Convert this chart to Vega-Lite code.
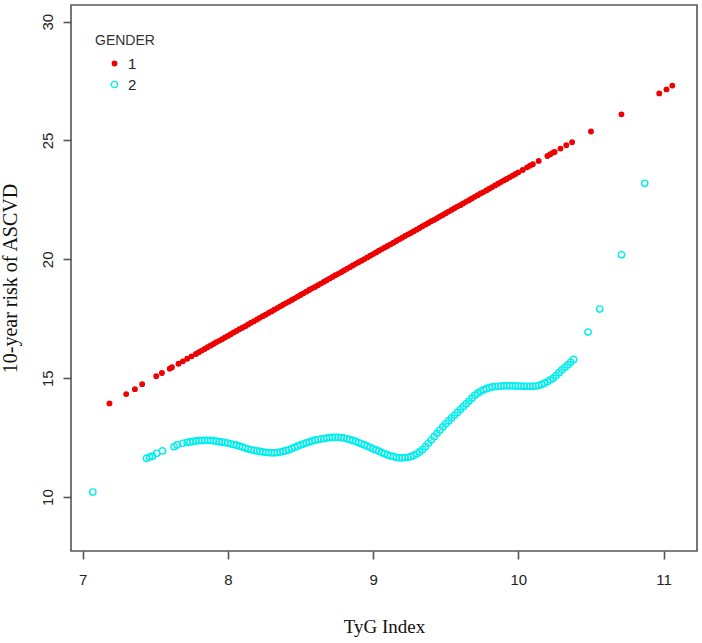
{
  "$schema": "https://vega.github.io/schema/vega-lite/v6.json",
  "autosize": "none",
  "padding": {"left": 71, "top": 5, "right": 5, "bottom": 92},
  "width": 626,
  "height": 546,
  "background": "white",
  "config": {
    "view": {"stroke": "#555555", "strokeWidth": 1.6},
    "axis": {"grid": false, "domain": false, "tickColor": "#555555", "tickWidth": 1.6, "tickSize": 8,
      "labelFont": "Liberation Sans", "labelFontSize": 15, "labelColor": "#222222",
      "titleFont": "Liberation Serif", "titleFontWeight": "normal", "titleColor": "#111111"},
    "legend": {"padding": 0,
      "titleFont": "Liberation Sans", "titleFontSize": 14, "titleFontWeight": "normal", "titleColor": "#333333",
      "titlePadding": 8, "labelFont": "Liberation Sans", "labelFontSize": 15, "labelColor": "#222222",
      "symbolOffset": 12, "labelOffset": 6, "rowPadding": 5, "symbolStrokeWidth": 1.3}
  },
  "data": {
    "values": [
      {"g": "1", "x": 7.185, "y": 13.94}, {"g": "1", "x": 7.30, "y": 14.33}, {"g": "1", "x": 7.36, "y": 14.54},
      {"g": "1", "x": 7.41, "y": 14.75}, {"g": "1", "x": 7.507, "y": 15.08}, {"g": "1", "x": 7.546, "y": 15.22},
      {"g": "1", "x": 7.60, "y": 15.40}, {"g": "1", "x": 7.615, "y": 15.46}, {"g": "1", "x": 7.66, "y": 15.61},
      {"g": "1", "x": 7.69, "y": 15.71}, {"g": "1", "x": 7.72, "y": 15.82}, {"g": "1", "x": 7.75, "y": 15.92},
      {"g": "1", "x": 7.78, "y": 16.02}, {"g": "1", "x": 7.80, "y": 16.09}, {"g": "1", "x": 7.82, "y": 16.16},
      {"g": "1", "x": 7.84, "y": 16.23}, {"g": "1", "x": 7.86, "y": 16.30}, {"g": "1", "x": 7.88, "y": 16.37},
      {"g": "1", "x": 7.90, "y": 16.44}, {"g": "1", "x": 7.92, "y": 16.51}, {"g": "1", "x": 7.94, "y": 16.57},
      {"g": "1", "x": 7.96, "y": 16.64}, {"g": "1", "x": 7.98, "y": 16.71}, {"g": "1", "x": 8.00, "y": 16.78},
      {"g": "1", "x": 8.02, "y": 16.85}, {"g": "1", "x": 8.04, "y": 16.92}, {"g": "1", "x": 8.06, "y": 16.99},
      {"g": "1", "x": 8.08, "y": 17.06}, {"g": "1", "x": 8.10, "y": 17.12}, {"g": "1", "x": 8.12, "y": 17.19},
      {"g": "1", "x": 8.14, "y": 17.26}, {"g": "1", "x": 8.16, "y": 17.33}, {"g": "1", "x": 8.18, "y": 17.40},
      {"g": "1", "x": 8.20, "y": 17.47}, {"g": "1", "x": 8.22, "y": 17.54}, {"g": "1", "x": 8.24, "y": 17.61},
      {"g": "1", "x": 8.26, "y": 17.67}, {"g": "1", "x": 8.28, "y": 17.74}, {"g": "1", "x": 8.30, "y": 17.81},
      {"g": "1", "x": 8.32, "y": 17.88}, {"g": "1", "x": 8.34, "y": 17.95}, {"g": "1", "x": 8.36, "y": 18.02},
      {"g": "1", "x": 8.38, "y": 18.09}, {"g": "1", "x": 8.40, "y": 18.16}, {"g": "1", "x": 8.42, "y": 18.22},
      {"g": "1", "x": 8.44, "y": 18.29}, {"g": "1", "x": 8.46, "y": 18.36}, {"g": "1", "x": 8.48, "y": 18.43},
      {"g": "1", "x": 8.50, "y": 18.50}, {"g": "1", "x": 8.52, "y": 18.57}, {"g": "1", "x": 8.54, "y": 18.64},
      {"g": "1", "x": 8.56, "y": 18.71}, {"g": "1", "x": 8.58, "y": 18.78}, {"g": "1", "x": 8.60, "y": 18.84},
      {"g": "1", "x": 8.62, "y": 18.91}, {"g": "1", "x": 8.64, "y": 18.98}, {"g": "1", "x": 8.66, "y": 19.05},
      {"g": "1", "x": 8.68, "y": 19.12}, {"g": "1", "x": 8.70, "y": 19.19}, {"g": "1", "x": 8.72, "y": 19.26},
      {"g": "1", "x": 8.74, "y": 19.33}, {"g": "1", "x": 8.76, "y": 19.39}, {"g": "1", "x": 8.78, "y": 19.46},
      {"g": "1", "x": 8.80, "y": 19.53}, {"g": "1", "x": 8.82, "y": 19.60}, {"g": "1", "x": 8.84, "y": 19.67},
      {"g": "1", "x": 8.86, "y": 19.74}, {"g": "1", "x": 8.88, "y": 19.81}, {"g": "1", "x": 8.90, "y": 19.88},
      {"g": "1", "x": 8.92, "y": 19.94}, {"g": "1", "x": 8.94, "y": 20.01}, {"g": "1", "x": 8.96, "y": 20.08},
      {"g": "1", "x": 8.98, "y": 20.15}, {"g": "1", "x": 9.00, "y": 20.22}, {"g": "1", "x": 9.02, "y": 20.29},
      {"g": "1", "x": 9.04, "y": 20.36}, {"g": "1", "x": 9.06, "y": 20.43}, {"g": "1", "x": 9.08, "y": 20.50},
      {"g": "1", "x": 9.10, "y": 20.56}, {"g": "1", "x": 9.12, "y": 20.63}, {"g": "1", "x": 9.14, "y": 20.70},
      {"g": "1", "x": 9.16, "y": 20.77}, {"g": "1", "x": 9.18, "y": 20.84}, {"g": "1", "x": 9.20, "y": 20.91},
      {"g": "1", "x": 9.22, "y": 20.98}, {"g": "1", "x": 9.24, "y": 21.05}, {"g": "1", "x": 9.26, "y": 21.11},
      {"g": "1", "x": 9.28, "y": 21.18}, {"g": "1", "x": 9.30, "y": 21.25}, {"g": "1", "x": 9.32, "y": 21.32},
      {"g": "1", "x": 9.34, "y": 21.39}, {"g": "1", "x": 9.36, "y": 21.46}, {"g": "1", "x": 9.38, "y": 21.53},
      {"g": "1", "x": 9.40, "y": 21.60}, {"g": "1", "x": 9.42, "y": 21.66}, {"g": "1", "x": 9.44, "y": 21.73},
      {"g": "1", "x": 9.46, "y": 21.80}, {"g": "1", "x": 9.48, "y": 21.87}, {"g": "1", "x": 9.50, "y": 21.94},
      {"g": "1", "x": 9.52, "y": 22.01}, {"g": "1", "x": 9.54, "y": 22.08}, {"g": "1", "x": 9.56, "y": 22.15},
      {"g": "1", "x": 9.58, "y": 22.22}, {"g": "1", "x": 9.60, "y": 22.28}, {"g": "1", "x": 9.62, "y": 22.35},
      {"g": "1", "x": 9.64, "y": 22.42}, {"g": "1", "x": 9.66, "y": 22.49}, {"g": "1", "x": 9.68, "y": 22.56},
      {"g": "1", "x": 9.70, "y": 22.63}, {"g": "1", "x": 9.72, "y": 22.70}, {"g": "1", "x": 9.74, "y": 22.77},
      {"g": "1", "x": 9.76, "y": 22.83}, {"g": "1", "x": 9.78, "y": 22.90}, {"g": "1", "x": 9.80, "y": 22.97},
      {"g": "1", "x": 9.82, "y": 23.04}, {"g": "1", "x": 9.84, "y": 23.11}, {"g": "1", "x": 9.86, "y": 23.18},
      {"g": "1", "x": 9.88, "y": 23.25}, {"g": "1", "x": 9.90, "y": 23.32}, {"g": "1", "x": 9.92, "y": 23.38},
      {"g": "1", "x": 9.94, "y": 23.45}, {"g": "1", "x": 9.96, "y": 23.52}, {"g": "1", "x": 9.98, "y": 23.59},
      {"g": "1", "x": 10.00, "y": 23.66}, {"g": "1", "x": 10.03, "y": 23.76}, {"g": "1", "x": 10.06, "y": 23.87},
      {"g": "1", "x": 10.08, "y": 23.94}, {"g": "1", "x": 10.10, "y": 24.00}, {"g": "1", "x": 10.14, "y": 24.14},
      {"g": "1", "x": 10.20, "y": 24.35}, {"g": "1", "x": 10.22, "y": 24.42}, {"g": "1", "x": 10.24, "y": 24.49},
      {"g": "1", "x": 10.25, "y": 24.52}, {"g": "1", "x": 10.29, "y": 24.66}, {"g": "1", "x": 10.33, "y": 24.80},
      {"g": "1", "x": 10.37, "y": 24.93}, {"g": "1", "x": 10.50, "y": 25.38}, {"g": "1", "x": 10.71, "y": 26.10},
      {"g": "1", "x": 10.97, "y": 26.98}, {"g": "1", "x": 11.02, "y": 27.15}, {"g": "1", "x": 11.06, "y": 27.31},

      {"g": "2", "x": 7.07, "y": 10.21}, {"g": "2", "x": 7.44, "y": 11.63}, {"g": "2", "x": 7.46, "y": 11.68},
      {"g": "2", "x": 7.48, "y": 11.72}, {"g": "2", "x": 7.51, "y": 11.84}, {"g": "2", "x": 7.55, "y": 11.94},
      {"g": "2", "x": 7.63, "y": 12.12}, {"g": "2", "x": 7.65, "y": 12.19}, {"g": "2", "x": 7.69, "y": 12.26},
      {"g": "2", "x": 7.72, "y": 12.30}, {"g": "2", "x": 7.74, "y": 12.32}, {"g": "2", "x": 7.76, "y": 12.34},
      {"g": "2", "x": 7.78, "y": 12.36}, {"g": "2", "x": 7.80, "y": 12.37}, {"g": "2", "x": 7.82, "y": 12.375},
      {"g": "2", "x": 7.84, "y": 12.38}, {"g": "2", "x": 7.86, "y": 12.38}, {"g": "2", "x": 7.88, "y": 12.375},
      {"g": "2", "x": 7.90, "y": 12.37}, {"g": "2", "x": 7.92, "y": 12.35}, {"g": "2", "x": 7.94, "y": 12.33},
      {"g": "2", "x": 7.96, "y": 12.31}, {"g": "2", "x": 7.98, "y": 12.29}, {"g": "2", "x": 8.00, "y": 12.27},
      {"g": "2", "x": 8.02, "y": 12.24}, {"g": "2", "x": 8.04, "y": 12.21}, {"g": "2", "x": 8.06, "y": 12.18},
      {"g": "2", "x": 8.08, "y": 12.14}, {"g": "2", "x": 8.10, "y": 12.10}, {"g": "2", "x": 8.12, "y": 12.06},
      {"g": "2", "x": 8.14, "y": 12.02}, {"g": "2", "x": 8.16, "y": 11.99}, {"g": "2", "x": 8.18, "y": 11.96},
      {"g": "2", "x": 8.20, "y": 11.94}, {"g": "2", "x": 8.22, "y": 11.92}, {"g": "2", "x": 8.24, "y": 11.90},
      {"g": "2", "x": 8.26, "y": 11.88}, {"g": "2", "x": 8.28, "y": 11.87}, {"g": "2", "x": 8.30, "y": 11.86},
      {"g": "2", "x": 8.32, "y": 11.86}, {"g": "2", "x": 8.34, "y": 11.87}, {"g": "2", "x": 8.36, "y": 11.89},
      {"g": "2", "x": 8.38, "y": 11.92}, {"g": "2", "x": 8.40, "y": 11.95}, {"g": "2", "x": 8.42, "y": 11.99},
      {"g": "2", "x": 8.44, "y": 12.04}, {"g": "2", "x": 8.46, "y": 12.09}, {"g": "2", "x": 8.48, "y": 12.14},
      {"g": "2", "x": 8.50, "y": 12.19}, {"g": "2", "x": 8.52, "y": 12.23}, {"g": "2", "x": 8.54, "y": 12.28},
      {"g": "2", "x": 8.56, "y": 12.32}, {"g": "2", "x": 8.58, "y": 12.36}, {"g": "2", "x": 8.60, "y": 12.39},
      {"g": "2", "x": 8.62, "y": 12.42}, {"g": "2", "x": 8.64, "y": 12.44}, {"g": "2", "x": 8.66, "y": 12.46},
      {"g": "2", "x": 8.68, "y": 12.48}, {"g": "2", "x": 8.70, "y": 12.50}, {"g": "2", "x": 8.72, "y": 12.51},
      {"g": "2", "x": 8.74, "y": 12.51}, {"g": "2", "x": 8.76, "y": 12.51}, {"g": "2", "x": 8.78, "y": 12.50},
      {"g": "2", "x": 8.80, "y": 12.48}, {"g": "2", "x": 8.82, "y": 12.45}, {"g": "2", "x": 8.84, "y": 12.42},
      {"g": "2", "x": 8.86, "y": 12.38}, {"g": "2", "x": 8.88, "y": 12.34}, {"g": "2", "x": 8.90, "y": 12.29},
      {"g": "2", "x": 8.92, "y": 12.24}, {"g": "2", "x": 8.94, "y": 12.19}, {"g": "2", "x": 8.96, "y": 12.14},
      {"g": "2", "x": 8.98, "y": 12.08}, {"g": "2", "x": 9.00, "y": 12.03}, {"g": "2", "x": 9.02, "y": 11.98},
      {"g": "2", "x": 9.04, "y": 11.93}, {"g": "2", "x": 9.06, "y": 11.87}, {"g": "2", "x": 9.08, "y": 11.82},
      {"g": "2", "x": 9.10, "y": 11.77}, {"g": "2", "x": 9.12, "y": 11.73}, {"g": "2", "x": 9.14, "y": 11.70},
      {"g": "2", "x": 9.16, "y": 11.67}, {"g": "2", "x": 9.18, "y": 11.65}, {"g": "2", "x": 9.20, "y": 11.65},
      {"g": "2", "x": 9.22, "y": 11.66}, {"g": "2", "x": 9.24, "y": 11.67}, {"g": "2", "x": 9.26, "y": 11.70},
      {"g": "2", "x": 9.28, "y": 11.75}, {"g": "2", "x": 9.30, "y": 11.82}, {"g": "2", "x": 9.32, "y": 11.90},
      {"g": "2", "x": 9.34, "y": 12.00}, {"g": "2", "x": 9.36, "y": 12.12}, {"g": "2", "x": 9.38, "y": 12.26},
      {"g": "2", "x": 9.40, "y": 12.40}, {"g": "2", "x": 9.42, "y": 12.54}, {"g": "2", "x": 9.44, "y": 12.68},
      {"g": "2", "x": 9.46, "y": 12.82}, {"g": "2", "x": 9.48, "y": 12.95}, {"g": "2", "x": 9.50, "y": 13.08},
      {"g": "2", "x": 9.52, "y": 13.20}, {"g": "2", "x": 9.54, "y": 13.32}, {"g": "2", "x": 9.56, "y": 13.44},
      {"g": "2", "x": 9.58, "y": 13.56}, {"g": "2", "x": 9.60, "y": 13.68}, {"g": "2", "x": 9.62, "y": 13.80},
      {"g": "2", "x": 9.64, "y": 13.92}, {"g": "2", "x": 9.66, "y": 14.04}, {"g": "2", "x": 9.68, "y": 14.16},
      {"g": "2", "x": 9.70, "y": 14.28}, {"g": "2", "x": 9.72, "y": 14.37}, {"g": "2", "x": 9.74, "y": 14.45},
      {"g": "2", "x": 9.76, "y": 14.51}, {"g": "2", "x": 9.78, "y": 14.56}, {"g": "2", "x": 9.80, "y": 14.60},
      {"g": "2", "x": 9.82, "y": 14.63}, {"g": "2", "x": 9.84, "y": 14.65}, {"g": "2", "x": 9.86, "y": 14.66},
      {"g": "2", "x": 9.88, "y": 14.67}, {"g": "2", "x": 9.90, "y": 14.68}, {"g": "2", "x": 9.92, "y": 14.68},
      {"g": "2", "x": 9.94, "y": 14.68}, {"g": "2", "x": 9.96, "y": 14.68}, {"g": "2", "x": 9.98, "y": 14.67},
      {"g": "2", "x": 10.00, "y": 14.67}, {"g": "2", "x": 10.02, "y": 14.67}, {"g": "2", "x": 10.04, "y": 14.66},
      {"g": "2", "x": 10.06, "y": 14.66}, {"g": "2", "x": 10.08, "y": 14.66}, {"g": "2", "x": 10.10, "y": 14.66},
      {"g": "2", "x": 10.12, "y": 14.67}, {"g": "2", "x": 10.14, "y": 14.69}, {"g": "2", "x": 10.16, "y": 14.73},
      {"g": "2", "x": 10.18, "y": 14.79}, {"g": "2", "x": 10.20, "y": 14.85}, {"g": "2", "x": 10.22, "y": 14.93},
      {"g": "2", "x": 10.24, "y": 15.00}, {"g": "2", "x": 10.26, "y": 15.11}, {"g": "2", "x": 10.28, "y": 15.23},
      {"g": "2", "x": 10.30, "y": 15.35}, {"g": "2", "x": 10.32, "y": 15.46}, {"g": "2", "x": 10.34, "y": 15.56},
      {"g": "2", "x": 10.36, "y": 15.67}, {"g": "2", "x": 10.38, "y": 15.79}, {"g": "2", "x": 10.48, "y": 16.94},
      {"g": "2", "x": 10.56, "y": 17.91}, {"g": "2", "x": 10.71, "y": 20.19}, {"g": "2", "x": 10.87, "y": 23.20}
    ]
  },
  "mark": {"type": "point", "strokeWidth": 1.4, "opacity": 1},
  "encoding": {
    "x": {
      "field": "x", "type": "quantitative", "title": "TyG Index",
      "scale": {"domain": [6.92, 11.23], "nice": false, "zero": false},
      "axis": {"values": [7, 8, 9, 10, 11], "labelPadding": 13, "titleFontSize": 19, "titlePadding": 30}
    },
    "y": {
      "field": "y", "type": "quantitative", "title": "10-year risk of ASCVD",
      "scale": {"domain": [7.73, 30.7], "nice": false, "zero": false},
      "axis": {"values": [10, 15, 20, 25, 30], "labelAngle": -90, "labelAlign": "center", "labelBaseline": "bottom",
        "labelPadding": 8, "titleFontSize": 20, "titlePadding": 20}
    },
    "stroke": {
      "field": "g", "type": "nominal", "title": "GENDER",
      "scale": {"domain": ["1", "2"], "range": ["#ee0000", "#00eeee"]},
      "legend": {"orient": "none", "legendX": 24, "legendY": 29}
    },
    "fill": {
      "field": "g", "type": "nominal", "title": "GENDER",
      "scale": {"domain": ["1", "2"], "range": ["#ee0000", "transparent"]},
      "legend": {"orient": "none", "legendX": 24, "legendY": 29}
    },
    "size": {
      "field": "g", "type": "nominal", "title": "GENDER",
      "scale": {"domain": ["1", "2"], "range": [20, 40]},
      "legend": {"orient": "none", "legendX": 24, "legendY": 29}
    }
  }
}
